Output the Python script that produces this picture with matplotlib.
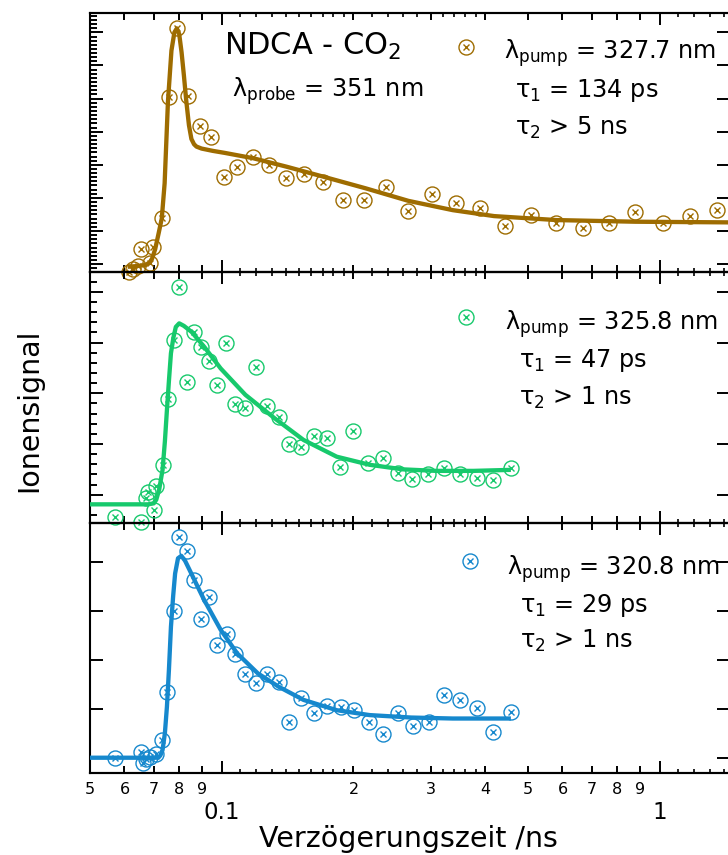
import numpy as np
import matplotlib
matplotlib.use('Agg')
import matplotlib.pyplot as plt
from matplotlib.ticker import FixedLocator, NullLocator, NullFormatter, FixedFormatter

plt.rcParams['font.family'] = ['DejaVu Sans']
plt.rcParams['mathtext.fontset'] = 'dejavusans'

# ---------------- data ----------------
top_t = [0.0613, 0.0626, 0.0643, 0.0685, 0.0656, 0.0697, 0.0730, 0.0757, 0.0791, 0.0836, 0.0892, 0.0948,
         0.1012, 0.1085, 0.1179, 0.1286, 0.1404, 0.1538, 0.1708, 0.1896, 0.2114, 0.2368, 0.2670, 0.3023,
         0.3430, 0.3883, 0.4427, 0.5078, 0.5813, 0.6668, 0.7663, 0.8796, 1.020, 1.173, 1.354]
top_v = [-0.23, -0.157, -0.06, 0.024, 0.45, 0.51, 1.384, 5.04, 7.12, 5.09, 4.17, 3.83,
         2.64, 2.94, 3.245, 2.99, 2.59, 2.72, 2.49, 1.94, 1.94, 2.34, 1.61, 2.12,
         1.855, 1.685, 1.15, 1.48, 1.25, 1.08, 1.25, 1.565, 1.25, 1.46, 1.63]
top_fit_t = [0.0610, 0.0640, 0.0670, 0.0685, 0.0694, 0.0705, 0.0718, 0.0730, 0.0741, 0.0754, 0.0768,
             0.0780, 0.0790, 0.0800, 0.0810, 0.0820, 0.0830, 0.0842, 0.0853, 0.0865, 0.0876, 0.0900,
             0.0955, 0.1016, 0.1179, 0.1409, 0.1708, 0.2131, 0.2670, 0.3370, 0.4188, 0.5813, 0.8796, 1.4500]
top_fit_v = [-0.08, -0.06, -0.03, 0.05, 0.17, 0.45, 0.93, 1.38, 2.44, 4.90, 6.45,
             7.00, 7.12, 6.95, 6.40, 5.70, 4.95, 4.20, 3.78, 3.62, 3.55, 3.49,
             3.42, 3.36, 3.20, 2.94, 2.64, 2.29, 1.91, 1.63, 1.45, 1.33, 1.28, 1.26]

mid_t = [0.0571, 0.0655, 0.0672, 0.0679, 0.0709, 0.0699, 0.0733, 0.0753, 0.0779, 0.0800, 0.0832, 0.0863,
         0.0896, 0.0936, 0.0977, 0.1021, 0.1074, 0.1133, 0.1197, 0.1269, 0.1349, 0.1425, 0.1521, 0.1627,
         0.1741, 0.1864, 0.1998, 0.2153, 0.2336, 0.2527, 0.2726, 0.2959, 0.3224, 0.3505, 0.3831, 0.4163, 0.4575]
mid_v = [-0.434, -0.53, -0.07, 0.06, 0.17, -0.30, 0.586, 1.88, 3.05, 4.09, 2.23, 3.21,
         2.92, 2.64, 2.16, 2.99, 1.78, 1.72, 2.52, 1.75, 1.54, 1.01, 0.95, 1.16,
         1.11, 0.55, 1.26, 0.63, 0.73, 0.43, 0.30, 0.41, 0.52, 0.41, 0.32, 0.29, 0.52]
mid_fit_t = [0.0500, 0.0679, 0.0700, 0.0709, 0.0720, 0.0733, 0.0742, 0.0750, 0.0758, 0.0766, 0.0776,
             0.0786, 0.0800, 0.0820, 0.0854, 0.0912, 0.0995, 0.1133, 0.1320, 0.1538, 0.1831, 0.2177,
             0.2592, 0.3090, 0.3760, 0.4575]
mid_fit_v = [-0.19, -0.19, -0.17, -0.10, 0.10, 0.49, 1.05, 1.67, 2.25, 2.79, 3.10,
             3.31, 3.38, 3.33, 3.21, 2.92, 2.49, 1.97, 1.51, 1.08, 0.75, 0.59,
             0.50, 0.47, 0.47, 0.49]

bot_t = [0.0571, 0.0655, 0.0660, 0.0672, 0.0686, 0.0709, 0.0730, 0.0750, 0.0779, 0.0800, 0.0832, 0.0863,
         0.0896, 0.0936, 0.0977, 0.1028, 0.1074, 0.1133, 0.1197, 0.1269, 0.1349, 0.1425, 0.1521, 0.1627,
         0.1741, 0.1871, 0.2007, 0.2167, 0.2341, 0.2527, 0.2737, 0.2971, 0.3224, 0.3505, 0.3831, 0.4163, 0.4575]
bot_v = [0.0, 0.12, -0.11, -0.03, 0.02, 0.08, 0.36, 1.35, 3.0, 4.5, 4.22, 3.63,
         2.84, 3.27, 2.30, 2.52, 2.12, 1.71, 1.52, 1.71, 1.55, 0.72, 1.21, 0.92,
         1.05, 1.03, 0.97, 0.72, 0.48, 0.92, 0.65, 0.73, 1.27, 1.18, 1.02, 0.52, 0.93]
bot_fit_t = [0.0500, 0.0717, 0.0725, 0.0733, 0.0742, 0.0750, 0.0758, 0.0766, 0.0775, 0.0783, 0.0795,
             0.0809, 0.0825, 0.0845, 0.0875, 0.0912, 0.0995, 0.1085, 0.1210, 0.1349, 0.1538, 0.1831,
             0.2177, 0.2708, 0.3370, 0.4575]
bot_fit_v = [0.0, 0.0, 0.05, 0.16, 0.50, 1.04, 1.80, 2.67, 3.30, 3.76, 4.07,
             4.12, 4.02, 3.83, 3.55, 3.22, 2.61, 2.13, 1.72, 1.45, 1.18, 0.97,
             0.87, 0.82, 0.80, 0.80]

# tick labels
label_ticks = [0.05, 0.06, 0.07, 0.08, 0.09, 0.2, 0.3, 0.4, 0.5, 0.6, 0.7, 0.8, 0.9]
label_text = ['5', '6', '7', '8', '9', '2', '3', '4', '5', '6', '7', '8', '9']
decade_ticks = [0.1, 1.0]
decade_text = ['0.1', '1']
fine_ticks = [0.11, 0.12, 0.13, 0.14, 0.15, 0.16, 0.17, 0.18, 0.19,
              0.22, 0.24, 0.26, 0.28, 0.32, 0.34, 0.36, 0.38, 1.1, 1.2, 1.3, 1.4]

brown = '#9E6C00'
green = '#17C96C'
blue = '#1688CD'

# ---------------- figure ----------------
W, H = 728, 855
fig = plt.figure(figsize=(W / 100, H / 100), dpi=100)


def px_rect(x0, y_top, x1, y_bot):
    return [x0 / W, 1 - y_bot / H, (x1 - x0) / W, (y_bot - y_top) / H]


XL, XR = 89.8, 730.3
ax_top = fig.add_axes(px_rect(XL, 12.7, XR, 272.3))
ax_mid = fig.add_axes(px_rect(XL, 272.3, XR, 523.3))
ax_bot = fig.add_axes(px_rect(XL, 523.3, XR, 773.3))


def style_axes(ax, bottom_labels):
    ax.set_facecolor('none')
    ax.set_xscale('log')
    ax.set_xlim(0.05, 1.45)
    ax.xaxis.set_major_locator(FixedLocator(decade_ticks))
    ax.xaxis.set_minor_locator(FixedLocator(label_ticks))
    if bottom_labels:
        ax.xaxis.set_major_formatter(FixedFormatter(decade_text))
        ax.xaxis.set_minor_formatter(FixedFormatter(label_text))
    else:
        ax.xaxis.set_major_formatter(NullFormatter())
        ax.xaxis.set_minor_formatter(NullFormatter())
    ax.tick_params(axis='x', which='both', direction='in', top=True, bottom=True, width=1.4,
                   labelbottom=bottom_labels)
    ax.tick_params(axis='x', which='major', length=8.6, labelsize=16.5, pad=20)
    ax.tick_params(axis='x', which='minor', length=5, labelsize=11.5, pad=6)
    for loc in ('top', 'bottom'):
        sec = ax.secondary_xaxis(loc)
        sec.xaxis.set_major_locator(FixedLocator(fine_ticks))
        sec.xaxis.set_major_formatter(NullFormatter())
        sec.xaxis.set_minor_locator(NullLocator())
        sec.tick_params(which='both', direction='in', length=2.6, width=1.2)
        for sp in sec.spines.values():
            sp.set_linewidth(1.5)
    ax.tick_params(axis='y', which='both', direction='in', left=True, right=True,
                   labelleft=False, width=1.4)
    ax.tick_params(axis='y', which='major', length=9.4)
    ax.tick_params(axis='y', which='minor', length=4.8, right=False)
    for sp in ax.spines.values():
        sp.set_linewidth(1.5)


for a in (ax_top, ax_mid, ax_bot):
    style_axes(a, a is ax_bot)

ax_top.set_ylim(-0.248, 7.595)
ax_top.yaxis.set_major_locator(FixedLocator(list(range(0, 8))))
ax_top.yaxis.set_minor_locator(FixedLocator(list(np.arange(-0.125, 7.6, 0.125))))

ax_mid.set_ylim(-0.564, 4.387)
ax_mid.yaxis.set_major_locator(FixedLocator(list(range(0, 5))))
ax_mid.yaxis.set_minor_locator(FixedLocator(list(np.arange(-0.4, 4.35, 0.2))))

ax_bot.set_ylim(-0.318, 4.784)
ax_bot.yaxis.set_major_locator(FixedLocator(list(range(0, 5))))
ax_bot.yaxis.set_minor_locator(NullLocator())


def draw(ax, t, v, ft, fv, c):
    h_o, = ax.plot(t, v, ls='none', marker='o', ms=10.8, mfc='none', mec=c, mew=1.0,
                   clip_on=False, zorder=2)
    h_x, = ax.plot(t, v, ls='none', marker='x', ms=4.8, mec=c, mew=1.0,
                   clip_on=False, zorder=2)
    ax.plot(ft, fv, color=c, lw=3.1, zorder=3, solid_capstyle='butt')
    return h_o, h_x


handles = [draw(ax_top, top_t, top_v, top_fit_t, top_fit_v, brown),
           draw(ax_mid, mid_t, mid_v, mid_fit_t, mid_fit_v, green),
           draw(ax_bot, bot_t, bot_v, bot_fit_t, bot_fit_v, blue)]

marker_pos = [(465.6, 50.5), (466.4, 320.5), (469.7, 564.5)]
for ax, h, (mx, my) in zip((ax_top, ax_mid, ax_bot), handles, marker_pos):
    ax.legend(handles=[h], labels=[''], loc='center', bbox_to_anchor=(mx / W, 1 - my / H),
              bbox_transform=fig.transFigure, frameon=False, fontsize=1,
              handlelength=16, handleheight=16, handletextpad=0, borderpad=0, borderaxespad=0)

FS = 17.3


def ftext(x, y, s, size=FS):
    fig.text(x / W, 1 - y / H, s, fontsize=size, ha='left', va='baseline')


ftext(224, 55, r'NDCA - CO$_2$', size=22)
ftext(232, 96.7, r'λ$_\mathrm{probe}$ = 351 nm')

ftext(504, 58.3, r'λ$_\mathrm{pump}$ = 327.7 nm')
ftext(515.3, 96.7, r'τ$_1$ = 134 ps')
ftext(515.3, 135, r'τ$_2$ > 5 ns')

ftext(505, 330, r'λ$_\mathrm{pump}$ = 325.8 nm')
ftext(518.6, 366.7, r'τ$_1$ = 47 ps')
ftext(518.6, 405, r'τ$_2$ > 1 ns')

ftext(507, 575, r'λ$_\mathrm{pump}$ = 320.8 nm')
ftext(520.3, 611.7, r'τ$_1$ = 29 ps')
ftext(520.3, 648.3, r'τ$_2$ > 1 ns')

ax_bot.set_xlabel('Verzögerungszeit /ns', fontsize=20.5, va='baseline')
ax_bot.xaxis.set_label_coords((408.5 - XL) / (XR - XL), (773.3 - 847) / 250)

ax_mid.set_ylabel('Ionensignal', fontsize=20.5, va='center')
ax_mid.yaxis.set_label_coords((29 - XL) / (XR - XL), (523.3 - 410) / 251)

fig.savefig('out.png', dpi=100)
